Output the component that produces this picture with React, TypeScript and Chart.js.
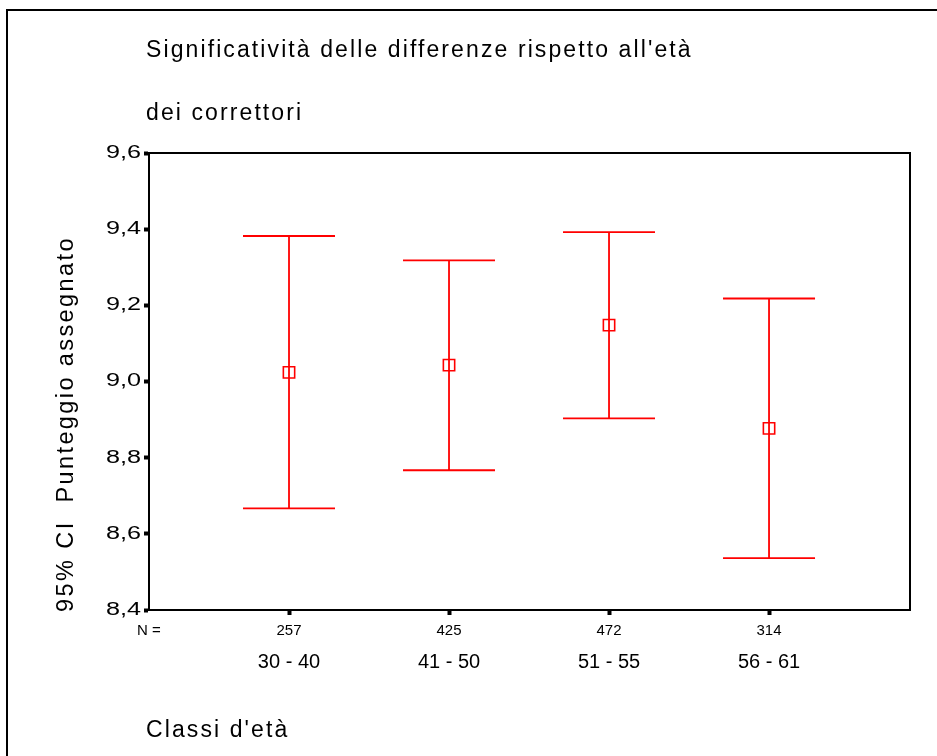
import React, { useEffect, useRef } from 'react';
import { Chart, registerables } from 'chart.js';

Chart.register(...registerables);

// ---- data ----
const CATEGORIES = ['30 - 40', '41 - 50', '51 - 55', '56 - 61'];
const N_COUNTS = ['257', '425', '472', '314'];
const MEANS = [9.024, 9.043, 9.148, 8.877];
const CI_LOW = [8.667, 8.767, 8.903, 8.536];
const CI_HIGH = [9.382, 9.318, 9.392, 9.218];
const Y_MIN = 8.4;
const Y_MAX = 9.6;
const Y_STEP = 0.2;
const X_MIN = 0.125;
const X_MAX = 4.881;
const N_LABEL = 'N =';
const TITLE_1 = "Significatività delle differenze rispetto all'età";
const TITLE_2 = 'dei correttori';
const Y_TITLE = '95% CI  Punteggio assegnato';
const X_TITLE = "Classi d'età";

const RED = '#ff0000';
const FONT = "'Liberation Sans', Arial, sans-serif";

const errorBarPlugin = {
  id: 'errorBars',
  afterDatasetsDraw(chart: any) {
    const { ctx, scales } = chart;
    const xs = scales.x;
    const ys = scales.y;
    ctx.save();
    ctx.strokeStyle = RED;
    ctx.lineWidth = 1.8;
    chart.data.datasets.forEach((ds: any) => {
      if (!ds.lows) return;
      ds.data.forEach((pt: any, i: number) => {
        const px = xs.getPixelForValue(pt.x);
        const pl = ys.getPixelForValue(ds.lows[i]);
        const ph = ys.getPixelForValue(ds.highs[i]);
        const cap = 46;
        ctx.beginPath();
        ctx.moveTo(px, ph);
        ctx.lineTo(px, pl);
        ctx.moveTo(px - cap, ph);
        ctx.lineTo(px + cap, ph);
        ctx.moveTo(px - cap, pl);
        ctx.lineTo(px + cap, pl);
        ctx.stroke();
      });
    });
    ctx.restore();
  },
};

const framePlugin = {
  id: 'frame',
  afterDraw(chart: any) {
    const { ctx, chartArea } = chart;
    ctx.save();
    ctx.strokeStyle = '#000';
    ctx.lineWidth = 2;
    ctx.strokeRect(chartArea.left, chartArea.top, chartArea.right - chartArea.left, chartArea.bottom - chartArea.top);
    ctx.restore();
  },
};

function patchStretch(scale: any, factor: number) {
  if (scale.__stretched) return;
  const orig = scale.drawLabels;
  scale.drawLabels = function (area: any) {
    const c = this.ctx;
    const ax = this.right - 5 - 3;
    c.save();
    c.translate(ax, 0);
    c.scale(factor, 1);
    c.translate(-ax, 0);
    orig.call(this, area);
    c.restore();
  };
  scale.__stretched = true;
}

export default function App() {
  const ref = useRef<HTMLCanvasElement | null>(null);

  useEffect(() => {
    if (!ref.current) return;
    const chart = new Chart(ref.current, {
      type: 'scatter',
      data: {
        datasets: [
          {
            label: 'mean',
            data: MEANS.map((m, i) => ({ x: i + 1, y: m })),
            lows: CI_LOW,
            highs: CI_HIGH,
            pointStyle: 'rect',
            pointRadius: 8,
            pointHoverRadius: 8,
            borderColor: RED,
            backgroundColor: 'rgba(0,0,0,0)',
            pointBorderWidth: 1.6,
            showLine: false,
          } as any,
        ],
      },
      options: {
        responsive: false,
        animation: false,
        events: [],
        layout: { padding: { left: 0, top: 153, right: 27, bottom: 82 } },
        plugins: { legend: { display: false }, tooltip: { enabled: false } },
        scales: {
          y: {
            type: 'linear',
            position: 'left',
            min: Y_MIN,
            max: Y_MAX,
            afterFit: (s: any) => { s.width = 149; },
            afterUpdate: (s: any) => patchStretch(s, 1.4),
            ticks: {
              stepSize: Y_STEP,
              color: '#000',
              padding: 3,
              font: { family: FONT, size: 18 },
              callback: (v: any) => Number(v).toFixed(1).replace('.', ','),
            },
            grid: { display: true, drawOnChartArea: false, drawTicks: true, tickLength: 5, tickWidth: 4, tickColor: '#000' },
            border: { display: true, color: '#000', width: 2 },
          },
          x: {
            type: 'linear',
            position: 'bottom',
            weight: 0,
            min: X_MIN,
            max: X_MAX,
            afterBuildTicks: (s: any) => {
              s.ticks = [X_MIN, 1, 2, 3, 4].map((v) => ({ value: v }));
            },
            afterFit: (s: any) => { s.height = 29.5; },
            ticks: {
              autoSkip: false,
              maxRotation: 0,
              color: '#000',
              padding: 6.5,
              font: { family: FONT, size: 15 },
              callback: (_v: any, i: number) => (i === 0 ? N_LABEL : N_COUNTS[i - 1]),
            },
            grid: {
              display: true,
              drawOnChartArea: false,
              drawTicks: true,
              tickLength: 5,
              tickWidth: 4,
              tickColor: (c: any) => (c.index === 0 ? 'rgba(0,0,0,0)' : '#000'),
            },
            border: { display: true, color: '#000', width: 2 },
          },
          x2: {
            type: 'linear',
            position: 'bottom',
            weight: 1,
            min: X_MIN,
            max: X_MAX,
            afterBuildTicks: (s: any) => {
              s.ticks = [1, 2, 3, 4].map((v) => ({ value: v }));
            },
            afterFit: (s: any) => { s.height = 34.5; },
            ticks: {
              autoSkip: false,
              maxRotation: 0,
              color: '#000',
              padding: 10.5,
              font: { family: FONT, size: 20 },
              callback: (_v: any, i: number) => CATEGORIES[i],
            },
            grid: { display: false, drawTicks: false, drawOnChartArea: false },
            border: { display: false },
          },
        },
      } as any,
      plugins: [errorBarPlugin, framePlugin],
    });
    return () => chart.destroy();
  }, []);

  const textBase: React.CSSProperties = {
    position: 'absolute',
    fontFamily: FONT,
    color: '#000',
    whiteSpace: 'pre',
    margin: 0,
  };

  return (
    <div style={{ position: 'fixed', left: 0, top: 0, width: 937, height: 756, overflow: 'hidden', background: '#fff' }}>
      <canvas ref={ref} width={937} height={756} style={{ position: 'absolute', left: 0, top: 0, width: 937, height: 756 }} />
      <div style={{ position: 'absolute', left: 6, top: 9, width: 931, height: 747, borderTop: '2px solid #000', borderLeft: '2px solid #000', boxSizing: 'border-box' }} />
      <div style={{ ...textBase, left: 146, top: 38, fontSize: 23, lineHeight: '23px', letterSpacing: '2.1px' }}>{TITLE_1}</div>
      <div style={{ ...textBase, left: 146, top: 101, fontSize: 23, lineHeight: '23px', letterSpacing: '2.1px' }}>{TITLE_2}</div>
      <div style={{ ...textBase, left: 146, top: 718, fontSize: 23, lineHeight: '23px', letterSpacing: '2.1px' }}>{X_TITLE}</div>
      <div
        style={{
          ...textBase,
          left: 66,
          top: 424,
          fontSize: 23.5,
          lineHeight: '23.5px',
          letterSpacing: '2.4px',
          transform: 'translate(-50%, -50%) rotate(-90deg)',
        }}
      >
        {Y_TITLE}
      </div>
    </div>
  );
}
